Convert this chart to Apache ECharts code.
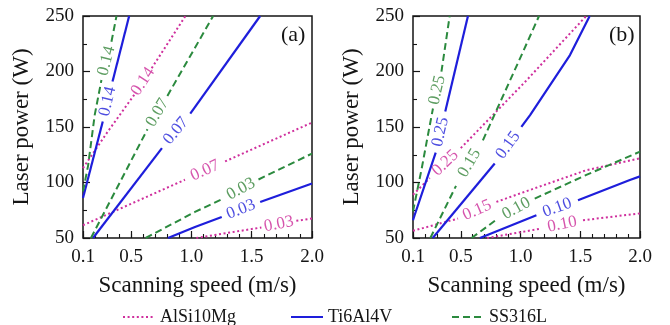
<!DOCTYPE html>
<html>
<head>
<meta charset="utf-8">
<script src="https://cdn.jsdelivr.net/npm/echarts@6/dist/echarts.min.js"></script>
<style>
html,body{margin:0;padding:0;background:#fff;}
#chart{width:670px;height:325px;}
</style>
</head>
<body>
<div id="chart"></div>
<script>
// Axis ticks
const speedTicks = [0.1, 0.5, 1.0, 1.5, 2.0];
const speedMinorTicks = [0.1, 0.2, 0.3, 0.4, 0.5, 0.6, 0.7, 0.8, 0.9, 1.0, 1.1, 1.2, 1.3, 1.4, 1.5, 1.6, 1.7, 1.8, 1.9, 2.0];
const powerMin = 50, powerMax = 250, powerStep = 50;
const materials = ['AlSi10Mg', 'Ti6Al4V', 'SS316L'];
const panelTags = ['(a)', '(b)'];

// Contour lines: [speed (m/s), power (W)] below (lo) and above (hi) the inline label
// Panel (a)
const a_AlSi10Mg_014 = { level: '0.14', lo: [[0.1, 113], [0.3, 145], [0.525, 179]], hi: [[0.67, 203], [0.95, 250]] };
const a_AlSi10Mg_007 = { level: '0.07', lo: [[0.1, 61.5], [0.42, 77], [0.946, 102.5]], hi: [[1.279, 119], [2.0, 154]] };
const a_AlSi10Mg_003 = { level: '0.03', lo: [[1.04, 50], [1.58, 59.5]], hi: [[1.87, 65.5], [2.0, 67.5]] };
const a_Ti6Al4V_014 = { level: '0.14', lo: [[0.1, 86], [0.264, 155]], hi: [[0.345, 191], [0.483, 250]] };
const a_Ti6Al4V_007 = { level: '0.07', lo: [[0.183, 50], [0.755, 131]], hi: [[0.99, 162], [1.57, 250]] };
const a_Ti6Al4V_003 = { level: '0.03', lo: [[0.805, 50], [1.029, 59.9], [1.251, 68.9]], hi: [[1.57, 82.5], [2.0, 99.1]] };
const a_SS316L_014 = { level: '0.14', lo: [[0.1, 92], [0.142, 115], [0.197, 160.7], [0.253, 192.3]], hi: [[0.336, 226.8], [0.378, 250]] };
const a_SS316L_007 = { level: '0.07', lo: [[0.166, 50], [0.635, 148]], hi: [[0.8, 178], [1.18, 250]] };
const a_SS316L_003 = { level: '0.03', lo: [[0.62, 50], [1.029, 73.5], [1.265, 85.5]], hi: [[1.556, 102.7], [2.0, 126.1]] };

// Panel (b)
const b_AlSi10Mg_025 = { level: '0.25', lo: [[0.1, 89], [0.24, 104]], hi: [[0.5, 131], [1.037, 190.5], [1.55, 250]] };
const b_AlSi10Mg_015 = { level: '0.15', lo: [[0.1, 56.5], [0.477, 67.5]], hi: [[0.798, 82.5], [1.037, 91.7], [1.551, 111.1], [2.0, 121.8]] };
const b_AlSi10Mg_010 = { level: '0.10', lo: [[0.72, 50], [1.175, 58.5]], hi: [[1.523, 66], [2.0, 72.2]] };
const b_Ti6Al4V_025 = { level: '0.25', lo: [[0.1, 66], [0.114, 70.7], [0.29, 127]], hi: [[0.37, 164], [0.56, 250]] };
const b_Ti6Al4V_015 = { level: '0.15', lo: [[0.265, 50], [0.784, 117.1]], hi: [[1.007, 150.1], [1.08, 160.7], [1.414, 214.8], [1.579, 250]] };
const b_Ti6Al4V_010 = { level: '0.10', lo: [[0.66, 50], [1.133, 70.5]], hi: [[1.481, 84], [1.915, 102.3], [2.0, 105.5]] };
const b_SS316L_025 = { level: '0.25', lo: [[0.1, 74], [0.17, 111], [0.215, 137], [0.267, 166.7]], hi: [[0.338, 199.8], [0.407, 250]] };
const b_SS316L_015 = { level: '0.15', lo: [[0.245, 50], [0.46, 97]], hi: [[0.685, 138], [1.021, 217.8], [1.155, 250]] };
const b_SS316L_010 = { level: '0.10', lo: [[0.59, 50], [0.811, 67.5]], hi: [[1.119, 85.5], [1.551, 106.8], [2.0, 127.8]] };

const panels = [
  [['AlSi10Mg', a_AlSi10Mg_014], ['AlSi10Mg', a_AlSi10Mg_007], ['AlSi10Mg', a_AlSi10Mg_003],
   ['Ti6Al4V', a_Ti6Al4V_014], ['Ti6Al4V', a_Ti6Al4V_007], ['Ti6Al4V', a_Ti6Al4V_003],
   ['SS316L', a_SS316L_014], ['SS316L', a_SS316L_007], ['SS316L', a_SS316L_003]],
  [['AlSi10Mg', b_AlSi10Mg_025], ['AlSi10Mg', b_AlSi10Mg_015], ['AlSi10Mg', b_AlSi10Mg_010],
   ['Ti6Al4V', b_Ti6Al4V_025], ['Ti6Al4V', b_Ti6Al4V_015], ['Ti6Al4V', b_Ti6Al4V_010],
   ['SS316L', b_SS316L_025], ['SS316L', b_SS316L_015], ['SS316L', b_SS316L_010]]
];

const FONT = '"Liberation Serif", "DejaVu Serif", serif';
const INK = '#151515';
const lineLook = {
  AlSi10Mg: { color: '#cf2f9d', type: [2, 2.6], width: 2 },
  Ti6Al4V: { color: '#1e1edb', type: 'solid', width: 2.2 },
  SS316L: { color: '#2b8a3e', type: [7, 4], width: 2 }
};
const labelInk = { AlSi10Mg: '#cc2a98', Ti6Al4V: '#2020d8', SS316L: '#35843a' };

const grids = [
  { left: 83, top: 16, width: 229, height: 222 },
  { left: 413, top: 16, width: 227, height: 222 }
];

const chart = echarts.init(document.getElementById('chart'), null, { renderer: 'canvas' });

const xAxes = [], yAxes = [], series = [];
grids.forEach((g, i) => {
  xAxes.push({
    gridIndex: i, type: 'value', min: speedTicks[0], max: speedTicks[speedTicks.length - 1], position: 'bottom',
    axisLine: { show: false }, splitLine: { show: false },
    axisTick: { inside: true, length: 7, customValues: speedTicks, lineStyle: { color: INK, width: 1.2 } },
    axisLabel: { customValues: speedTicks, formatter: v => v.toFixed(1), fontFamily: FONT, fontSize: 19, color: INK, margin: 10 },
    name: 'Scanning speed (m/s)', nameLocation: 'middle', nameGap: 36,
    nameTextStyle: { fontFamily: FONT, fontSize: 23, color: INK }
  });
  xAxes.push({
    gridIndex: i, type: 'value', min: speedTicks[0], max: speedTicks[speedTicks.length - 1], position: 'bottom',
    axisLine: { show: false }, splitLine: { show: false }, axisLabel: { show: false },
    axisTick: { inside: true, length: 4, customValues: speedMinorTicks, lineStyle: { color: INK, width: 1.1 } }
  });
  yAxes.push({
    gridIndex: i, type: 'value', min: powerMin, max: powerMax, interval: powerStep,
    axisLine: { show: false }, splitLine: { show: false },
    axisTick: { inside: true, length: 7, lineStyle: { color: INK, width: 1.2 } },
    minorTick: { show: true, splitNumber: 2, length: 4, lineStyle: { color: INK, width: 1.1 } },
    axisLabel: { fontFamily: FONT, fontSize: 19, color: INK, margin: 9 },
    name: 'Laser power (W)', nameLocation: 'middle', nameGap: 50, nameRotate: 90,
    nameTextStyle: { fontFamily: FONT, fontSize: 23, color: INK }
  });
  panels[i].forEach(([mat, c]) => {
    ['lo', 'hi'].forEach(part => {
      series.push({
        type: 'line', name: mat, xAxisIndex: i * 2, yAxisIndex: i,
        data: c[part], symbol: 'none', showSymbol: false, silent: true, z: 3,
        lineStyle: Object.assign({ cap: 'butt' }, lineLook[mat]),
        itemStyle: { color: lineLook[mat].color }
      });
    });
  });
});

const legendLeft = [122, 290, 451];
const option = {
  animation: false,
  backgroundColor: '#ffffff',
  grid: grids.map(g => Object.assign({ show: true, borderColor: INK, borderWidth: 1.5, backgroundColor: 'transparent', containLabel: false }, g)),
  xAxis: xAxes,
  yAxis: yAxes,
  title: panelTags.map((t, i) => ({
    text: t, left: grids[i].left + grids[i].width - 36, top: 19,
    textStyle: { fontFamily: FONT, fontSize: 22, fontWeight: 'normal', color: INK }
  })),
  legend: materials.map((m, i) => ({
    data: [m], left: legendLeft[i], top: 308, padding: 0, itemWidth: 32, itemHeight: 12, itemGap: 6,
    selectedMode: false,
    itemStyle: { opacity: 0 },
    textStyle: { fontFamily: FONT, fontSize: 18, color: INK }
  })),
  series: series
};
chart.setOption(option);

// Inline contour labels, centred in each line's gap and turned along it
const labelSeries = [];
panels.forEach((contours, i) => {
  const finder = { xAxisIndex: i * 2, yAxisIndex: i };
  const items = contours.map(([mat, c]) => {
    const a = c.lo[c.lo.length - 1], b = c.hi[0];
    const pa = chart.convertToPixel(finder, a), pb = chart.convertToPixel(finder, b);
    const ang = Math.atan2(-(pb[1] - pa[1]), pb[0] - pa[0]) * 180 / Math.PI;
    return {
      value: [(a[0] + b[0]) / 2, (a[1] + b[1]) / 2],
      label: { rotate: ang, color: labelInk[mat], formatter: c.level }
    };
  });
  labelSeries.push({
    type: 'scatter', name: 'labels' + i, xAxisIndex: i * 2, yAxisIndex: i,
    symbolSize: 0, silent: true, z: 6, data: items,
    label: { show: true, position: 'inside', fontFamily: FONT, fontSize: 17 }
  });
});
chart.setOption({ series: series.concat(labelSeries) });
</script>
</body>
</html>
